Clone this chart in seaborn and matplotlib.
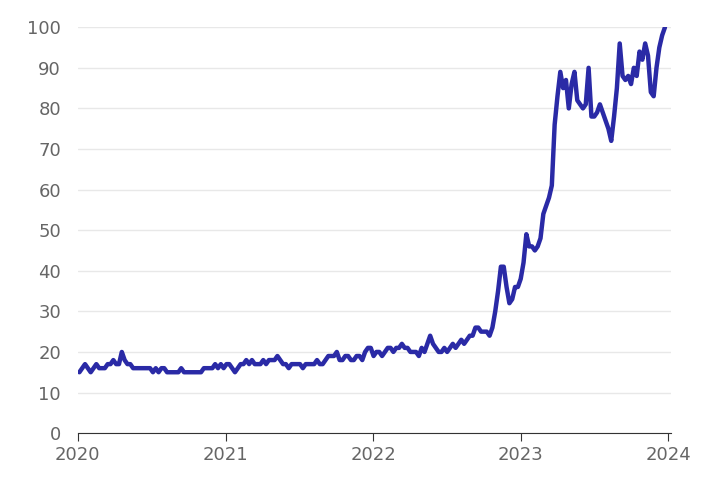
import matplotlib
matplotlib.use("Agg")
import matplotlib.pyplot as plt
import seaborn as sns
import pandas as pd
import numpy as np

v2020 = [15,16,17,16,15,16,17,16,16,16,17,17,18,17,17,20,18,17,17,16,16,16,16,16,16,16,15,16,15,16,16,15,15,15,15,15,16,15,15,15,15,15,15,15,16,16,16,16,17,16,17,16]
v2021 = [17,17,16,15,16,17,17,18,17,18,17,17,17,18,17,18,18,18,19,18,17,17,16,17,17,17,17,16,17,17,17,17,18,17,17,18,19,19,19,20,18,18,19,19,18,18,19,19,18,20,21,21]
v2022 = [19,20,20,19,20,21,21,20,21,21,22,21,21,20,20,20,19,21,20,22,24,22,21,20,20,21,20,21,22,21,22,23,22,23,24,24,26,26,25,25,25,24,26,30,35,41,41,36,32,33,36,36]
v2023 = [38,42,49,46,46,45,46,48,54,56,58,61,76,83,89,85,87,80,86,89,82,81,80,81,90,78,78,79,81,79,77,75,72,78,85,96,88,87,88,86,90,88,94,92,96,93,84,83,90,95,98,100]
values = v2020 + v2021 + v2022 + v2023
dates = pd.date_range("2020-01-05", periods=len(values), freq="7D")
df = pd.DataFrame({"date": dates, "value": values})

sns.set_style("white")
fig, ax = plt.subplots(figsize=(7.2, 4.95), dpi=100)
fig.subplots_adjust(left=0.108, right=0.932, top=0.945, bottom=0.125)
sns.lineplot(data=df, x="date", y="value", ax=ax, color="#2a2aa6", linewidth=3.2)
ax.set_ylim(0, 100)
ax.set_yticks(range(0, 101, 10))
ax.set_xlim(pd.Timestamp("2020-01-01"), pd.Timestamp("2024-01-08"))
years = [2020, 2021, 2022, 2023, 2024]
ax.set_xticks([pd.Timestamp(f"{y}-01-01") for y in years])
ax.set_xticklabels([str(y) for y in years])
ax.grid(axis="y", color="#e8e8e8", linewidth=1)
ax.set_axisbelow(True)
for s in ["top", "right", "left"]:
    ax.spines[s].set_visible(False)
ax.spines["bottom"].set_color("#333333")
ax.tick_params(axis="y", length=0, labelsize=13, labelcolor="#666666", pad=12)
ax.tick_params(axis="x", length=6, color="#333333", labelsize=13, labelcolor="#666666", bottom=True)
ax.set_xlabel("")
ax.set_ylabel("")
fig.savefig("out.png")
